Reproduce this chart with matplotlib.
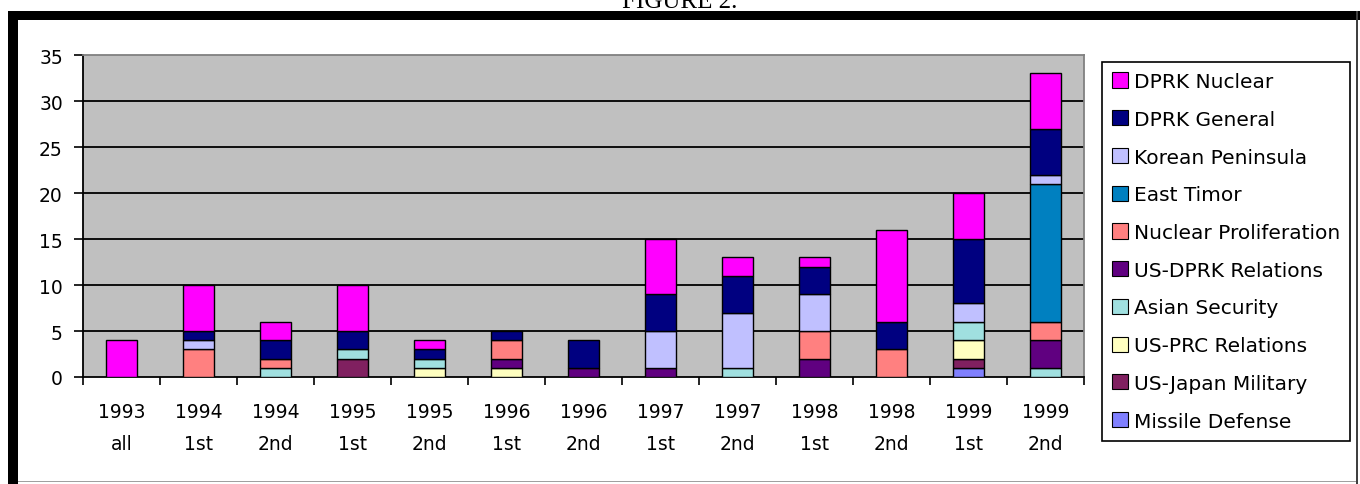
import numpy as np
import matplotlib
matplotlib.use("Agg")
from matplotlib import pyplot as plt
from matplotlib.patches import Patch, Rectangle

# categories (two-line tick labels)
years = ["1993", "1994", "1994", "1995", "1995", "1996", "1996",
         "1997", "1997", "1998", "1998", "1999", "1999"]
halves = ["all", "1st", "2nd", "1st", "2nd", "1st", "2nd",
          "1st", "2nd", "1st", "2nd", "1st", "2nd"]

# series, bottom of stack first
missile_defense = [0, 0, 0, 0, 0, 0, 0, 0, 0, 0, 0, 1, 0]
us_japan_military = [0, 0, 0, 2, 0, 0, 0, 0, 0, 0, 0, 1, 0]
us_prc_relations = [0, 0, 0, 0, 1, 1, 0, 0, 0, 0, 0, 2, 0]
asian_security = [0, 0, 1, 1, 1, 0, 0, 0, 1, 0, 0, 2, 1]
us_dprk_relations = [0, 0, 0, 0, 0, 1, 1, 1, 0, 2, 0, 0, 3]
nuclear_proliferation = [0, 3, 1, 0, 0, 2, 0, 0, 0, 3, 3, 0, 2]
east_timor = [0, 0, 0, 0, 0, 0, 0, 0, 0, 0, 0, 0, 15]
korean_peninsula = [0, 1, 0, 0, 0, 0, 0, 4, 6, 4, 0, 2, 1]
dprk_general = [0, 1, 2, 2, 1, 1, 3, 4, 4, 3, 3, 7, 5]
dprk_nuclear = [4, 5, 2, 5, 1, 0, 0, 6, 2, 1, 10, 5, 6]

series_names = ["Missile Defense", "US-Japan Military", "US-PRC Relations",
                "Asian Security", "US-DPRK Relations", "Nuclear Proliferation",
                "East Timor", "Korean Peninsula", "DPRK General", "DPRK Nuclear"]
series_values = [missile_defense, us_japan_military, us_prc_relations,
                 asian_security, us_dprk_relations, nuclear_proliferation,
                 east_timor, korean_peninsula, dprk_general, dprk_nuclear]
series_colors = ["#8080FF", "#802060", "#FFFFC0", "#A0E0E0", "#600080",
                 "#FF8080", "#0080C0", "#C0C0FF", "#000080", "#FF00FF"]

W, H = 1360, 485
fig = plt.figure(figsize=(W / 100, H / 100), dpi=100)
fig.patch.set_facecolor("white")

# page frame (black band top/left, thin lines right/bottom)
fig.patches.append(Rectangle((8 / W, 1 - 21 / H), 1 - 8 / W, 9 / H, transform=fig.transFigure,
                             facecolor="black", edgecolor="none"))
fig.patches.append(Rectangle((8 / W, 0), 10 / W, 1 - 12 / H, transform=fig.transFigure,
                             facecolor="black", edgecolor="none"))
fig.patches.append(Rectangle((1356 / W, 0), 2 / W, 1 - 12 / H, transform=fig.transFigure,
                             facecolor="#404040", edgecolor="none"))
fig.patches.append(Rectangle((18 / W, 2 / H), 1338 / W, 1.5 / H, transform=fig.transFigure,
                             facecolor="#a0a0a0", edgecolor="none"))
# page caption, cut by the top edge as in the scan
fig.text(0.5, 1 - 8 / H, "FIGURE 2.", ha="center", va="baseline",
         family="Liberation Serif", fontsize=18)

ax = fig.add_axes([83 / W, (H - 378) / H, 1001 / W, 322 / H])
ax.set_facecolor("#C0C0C0")

x = np.arange(len(years))
bottom = np.zeros(len(years))
for name, vals, col in zip(series_names, series_values, series_colors):
    v = np.array(vals, dtype=float)
    m = v > 0
    ax.bar(x[m], v[m], width=0.4, bottom=bottom[m], color=col,
           edgecolor="black", linewidth=1.0, zorder=3)
    bottom += v

ax.set_xlim(-0.5, len(years) - 0.5)
ax.set_ylim(0, 35)
ax.set_yticks(range(0, 36, 5))
for yv in range(5, 31, 5):
    ax.axhline(yv, color="black", linewidth=1.3, zorder=1)

ax.set_xticks(x)
ax.set_xticklabels([f"{a}\n{b}" for a, b in zip(years, halves)], linespacing=1.9)
ax.set_xticks(np.arange(-0.5, len(years)), minor=True)
ax.tick_params(axis="x", which="major", length=0, pad=18, labelsize=13.5)
ax.tick_params(axis="x", which="minor", length=6, width=1.2, color="black")
ax.tick_params(axis="y", length=6.5, width=1.2, pad=8, labelsize=13.5)

for s in ["left", "bottom"]:
    ax.spines[s].set_color("black")
    ax.spines[s].set_linewidth(1.3)
for s in ["top", "right"]:
    ax.spines[s].set_color("#808080")
    ax.spines[s].set_linewidth(1.3)

handles = [Patch(facecolor=c, edgecolor="black", linewidth=0.8, label=n)
           for n, c in zip(series_names, series_colors)][::-1]
leg = fig.legend(handles=handles, loc="upper left",
                 bbox_to_anchor=(1102 / W, 1 - 63 / H), borderaxespad=0,
                 fontsize=14.5, handlelength=0.78, handleheight=0.78,
                 handletextpad=0.3, labelspacing=0.93, borderpad=0.5,
                 fancybox=False, framealpha=1, edgecolor="black")
leg.get_frame().set_linewidth(1.2)

fig.savefig("out.png", dpi=100)
